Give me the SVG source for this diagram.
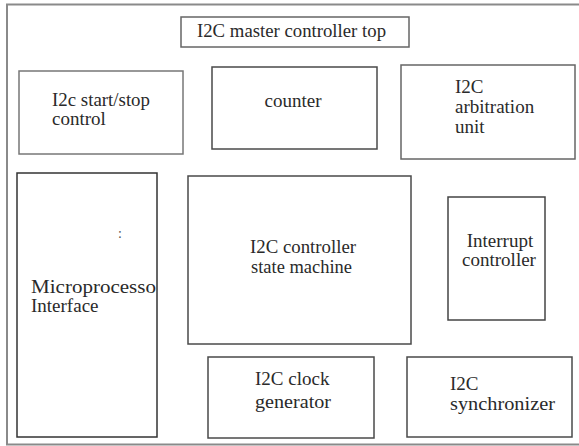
<svg xmlns="http://www.w3.org/2000/svg" width="579" height="446" viewBox="0 0 579 446">
<defs>
  <clipPath id="clipMicro"><rect x="17" y="173" width="139" height="264"/></clipPath>
</defs>
<rect x="0" y="0" width="579" height="446" fill="#ffffff"/>
<g id="frame">
  <path d="M 580 4.5 L 7 4.5 L 7 444.5 L 580 444.5" fill="none" stroke="#8a8a8a" stroke-width="2"/>
</g>
<g id="connectors"></g>
<g id="title">
  <rect x="181" y="17" width="228" height="30" fill="#fff" stroke="#666" stroke-width="1.5"/>
  <text x="197" y="37" font-family="Times New Roman" font-size="19" fill="#2a2a2a" textLength="189" lengthAdjust="spacingAndGlyphs">I2C master controller top</text>
</g>
<g id="startstop">
  <rect x="19" y="71" width="164" height="83" fill="#fff" stroke="#777" stroke-width="1.5"/>
  <text x="52" y="106" font-family="Times New Roman" font-size="19" fill="#2a2a2a" textLength="98" lengthAdjust="spacingAndGlyphs">I2c start/stop</text>
  <text x="52" y="125" font-family="Times New Roman" font-size="19" fill="#2a2a2a">control</text>
</g>
<g id="counter">
  <rect x="212" y="67" width="165" height="82" fill="#fff" stroke="#4a4a4a" stroke-width="1.5"/>
  <text x="293" y="107" font-family="Times New Roman" font-size="19" fill="#2a2a2a" text-anchor="middle">counter</text>
</g>
<g id="arbitration">
  <rect x="401" y="65" width="174" height="94" fill="#fff" stroke="#666" stroke-width="1.5"/>
  <text x="455" y="93" font-family="Times New Roman" font-size="19" fill="#2a2a2a">I2C</text>
  <text x="455" y="113" font-family="Times New Roman" font-size="19" fill="#2a2a2a">arbitration</text>
  <text x="455" y="133" font-family="Times New Roman" font-size="19" fill="#2a2a2a">unit</text>
</g>
<g id="micro">
  <rect x="17" y="173" width="140" height="264" fill="#fff" stroke="#333" stroke-width="1.5"/>
  <text x="118" y="238" font-family="Times New Roman" font-size="14" fill="#555">:</text>
  <g clip-path="url(#clipMicro)">
    <text x="31" y="293" font-family="Times New Roman" font-size="19" fill="#2a2a2a" textLength="132" lengthAdjust="spacingAndGlyphs">Microprocessor</text>
  </g>
  <text x="31" y="312" font-family="Times New Roman" font-size="19" fill="#2a2a2a">Interface</text>
</g>
<g id="statemachine">
  <rect x="188" y="176" width="223" height="168" fill="#fff" stroke="#4a4a4a" stroke-width="1.5"/>
  <text x="250" y="253" font-family="Times New Roman" font-size="19" fill="#2a2a2a" textLength="106" lengthAdjust="spacingAndGlyphs">I2C controller</text>
  <text x="251" y="273" font-family="Times New Roman" font-size="19" fill="#2a2a2a" textLength="101" lengthAdjust="spacingAndGlyphs">state machine</text>
</g>
<g id="interrupt">
  <rect x="448" y="197" width="97" height="123" fill="#fff" stroke="#444" stroke-width="1.5"/>
  <text x="500" y="247" font-family="Times New Roman" font-size="19" fill="#2a2a2a" text-anchor="middle">Interrupt</text>
  <text x="499" y="266" font-family="Times New Roman" font-size="19" fill="#2a2a2a" text-anchor="middle">controller</text>
</g>
<g id="clockgen">
  <rect x="208" y="357" width="166" height="81" fill="#fff" stroke="#4a4a4a" stroke-width="1.5"/>
  <text x="255" y="385" font-family="Times New Roman" font-size="19" fill="#2a2a2a">I2C clock</text>
  <text x="255" y="408" font-family="Times New Roman" font-size="19" fill="#2a2a2a" textLength="76" lengthAdjust="spacingAndGlyphs">generator</text>
</g>
<g id="synchronizer">
  <rect x="407" y="357" width="165" height="80" fill="#fff" stroke="#4a4a4a" stroke-width="1.5"/>
  <text x="450" y="390" font-family="Times New Roman" font-size="19" fill="#2a2a2a">I2C</text>
  <text x="450" y="410" font-family="Times New Roman" font-size="19" fill="#2a2a2a" textLength="105" lengthAdjust="spacingAndGlyphs">synchronizer</text>
</g>
</svg>
